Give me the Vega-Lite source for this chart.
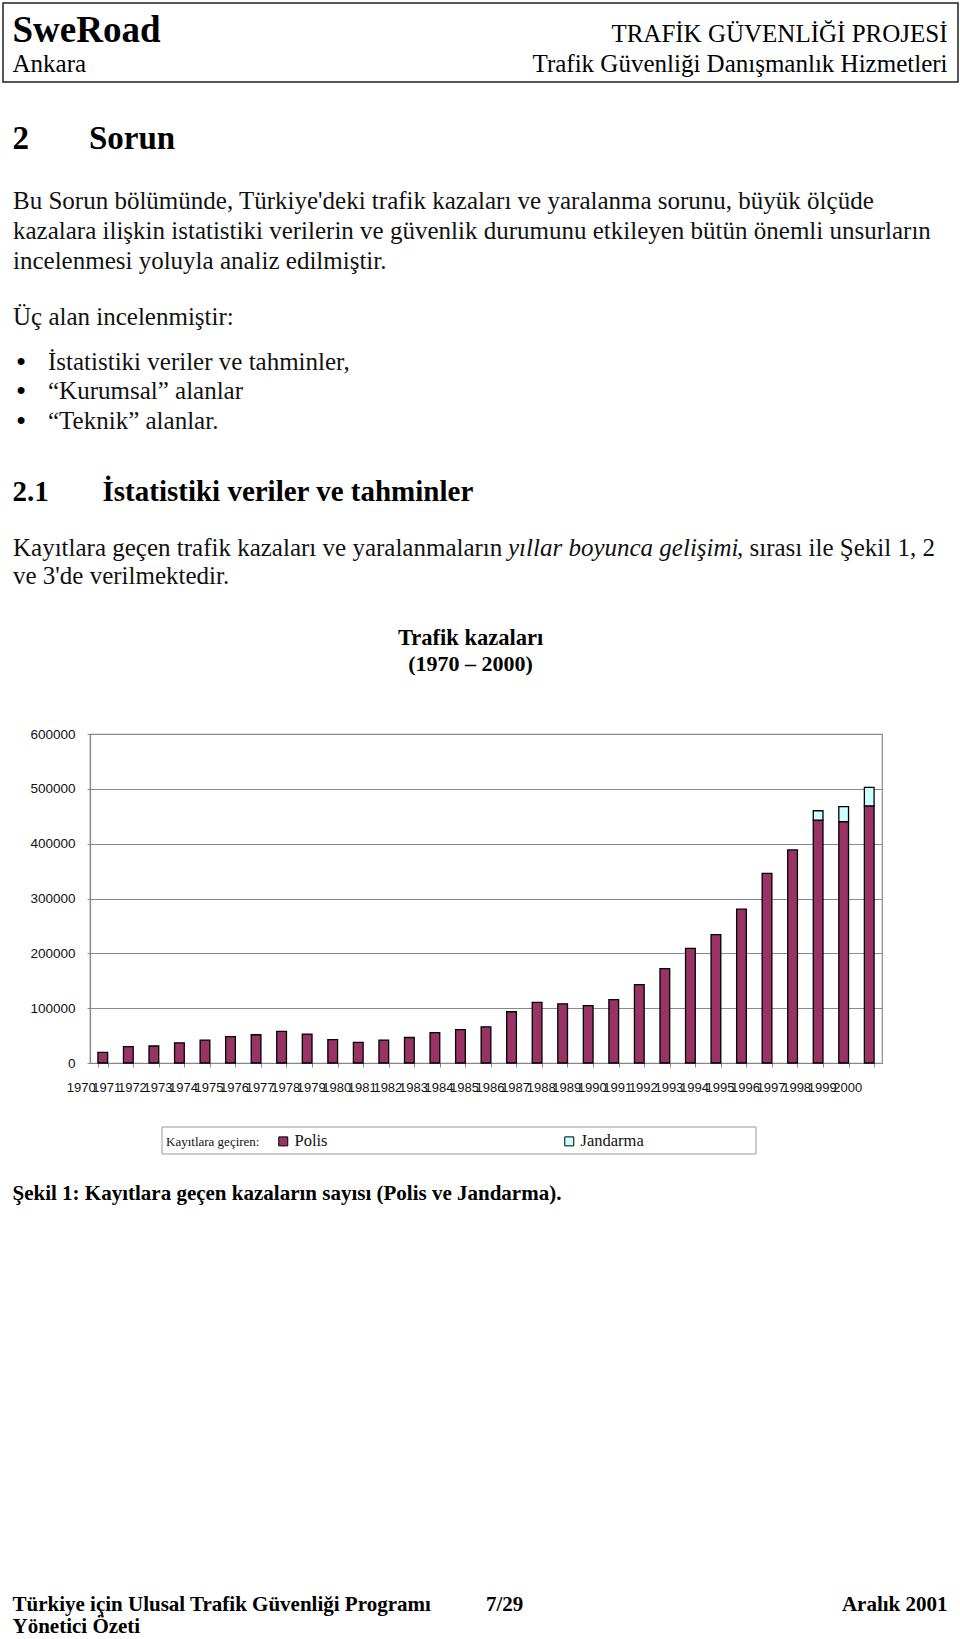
{
  "$schema": "https://vega.github.io/schema/vega-lite/v6.json",
  "width": 792,
  "height": 329,
  "autosize": {"type": "none"},
  "padding": {"left": 90, "top": 734, "right": 78, "bottom": 576},
  "background": "white",
  "config": {
    "view": {"stroke": "#8a8a8a", "strokeWidth": 1.2},
    "text": {"font": "Liberation Serif", "color": "#111111", "baseline": "alphabetic", "align": "left"}
  },
  "layer": [
    {
      "data": {"values": [{}]},
      "mark": {"type": "rect", "x": -87, "y": -731, "x2": 868, "y2": -652, "fill": "white", "fillOpacity": 0, "stroke": "#222222", "strokeWidth": 1.5}
    },
    {
      "data": {"values": [{}]},
      "mark": {"type": "rect", "x": 72, "y": 393, "x2": 666, "y2": 420, "fill": "white", "stroke": "#999999", "strokeWidth": 1}
    },
    {
      "data": {"values": [{}]},
      "mark": {"type": "rule", "x": -77.5, "x2": 861.5, "y": 855.5, "y2": 855.5, "stroke": "#555555", "strokeWidth": 2},
      "encoding": {}
    },
    {
      "data": {
        "values": [
          {"year": "1970", "series": "Polis", "value": 19500},
          {"year": "1971", "series": "Polis", "value": 30000},
          {"year": "1972", "series": "Polis", "value": 31000},
          {"year": "1973", "series": "Polis", "value": 36800},
          {"year": "1974", "series": "Polis", "value": 41800},
          {"year": "1975", "series": "Polis", "value": 48000},
          {"year": "1976", "series": "Polis", "value": 51500},
          {"year": "1977", "series": "Polis", "value": 57500},
          {"year": "1978", "series": "Polis", "value": 52800},
          {"year": "1979", "series": "Polis", "value": 42500},
          {"year": "1980", "series": "Polis", "value": 37500},
          {"year": "1981", "series": "Polis", "value": 41800},
          {"year": "1982", "series": "Polis", "value": 46500},
          {"year": "1983", "series": "Polis", "value": 55500},
          {"year": "1984", "series": "Polis", "value": 61000},
          {"year": "1985", "series": "Polis", "value": 66000},
          {"year": "1986", "series": "Polis", "value": 93500},
          {"year": "1987", "series": "Polis", "value": 110500},
          {"year": "1988", "series": "Polis", "value": 108000},
          {"year": "1989", "series": "Polis", "value": 104500},
          {"year": "1990", "series": "Polis", "value": 115500},
          {"year": "1991", "series": "Polis", "value": 143000},
          {"year": "1992", "series": "Polis", "value": 172000},
          {"year": "1993", "series": "Polis", "value": 209000},
          {"year": "1994", "series": "Polis", "value": 234000},
          {"year": "1995", "series": "Polis", "value": 280500},
          {"year": "1996", "series": "Polis", "value": 346000},
          {"year": "1997", "series": "Polis", "value": 388500},
          {"year": "1998", "series": "Polis", "value": 443000},
          {"year": "1998", "series": "Jandarma", "value": 17000},
          {"year": "1999", "series": "Polis", "value": 440200},
          {"year": "1999", "series": "Jandarma", "value": 27200},
          {"year": "2000", "series": "Polis", "value": 469000},
          {"year": "2000", "series": "Jandarma", "value": 33700}
        ]
      },
      "mark": {"type": "bar", "stroke": "#000000", "strokeWidth": 1.3},
      "encoding": {
        "x": {
          "field": "year", "type": "ordinal",
          "scale": {"paddingInner": 0.62, "paddingOuter": 0.31},
          "axis": {
            "title": null, "labelAngle": 0, "tickBand": "extent", "labelOverlap": false, "labelBound": false,
            "labelFont": "Liberation Sans", "labelFontSize": 13, "labelColor": "#111111",
            "labelOffset": -22, "labelPadding": 14, "tickSize": 4, "tickColor": "#888888",
            "domainColor": "#888888", "domainWidth": 1.2, "grid": false
          }
        },
        "y": {
          "field": "value", "type": "quantitative", "stack": "zero",
          "scale": {"domain": [0, 600000], "nice": false},
          "axis": {
            "title": null, "values": [0, 100000, 200000, 300000, 400000, 500000, 600000], "format": "d",
            "labelFont": "Liberation Sans", "labelFontSize": 13.5, "labelColor": "#111111",
            "labelPadding": 12, "tickSize": 3, "tickColor": "#888888",
            "domainColor": "#888888", "domainWidth": 1.2,
            "grid": true, "gridColor": "#8a8a8a", "gridWidth": 1.2
          }
        },
        "color": {
          "field": "series", "type": "nominal",
          "scale": {"domain": ["Polis", "Jandarma"], "range": ["#993366", "#ccffff"]},
          "legend": {
            "orient": "none", "legendX": 185, "legendY": 399, "direction": "horizontal", "title": null,
            "symbolType": "square", "symbolSize": 81, "symbolStrokeColor": "#000000", "symbolStrokeWidth": 1,
            "labelFont": "Liberation Serif", "labelFontSize": 16.5, "labelColor": "#111111",
            "labelOffset": 3, "columnPadding": 233, "padding": 0
          }
        },
        "order": {"field": "series", "sort": "descending"}
      }
    },
    {"data": {"values": [{}]}, "mark": {"type": "text", "x": -77.5, "y": -692.5, "text": "SweRoad", "fontSize": 37, "fontWeight": "bold", "color": "#000000"}},
    {"data": {"values": [{}]}, "mark": {"type": "text", "x": -77.5, "y": -662.5, "text": "Ankara", "fontSize": 25, "color": "#000000"}},
    {"data": {"values": [{}]}, "mark": {"type": "text", "x": 857.5, "y": -692.5, "align": "right", "text": "TRAFİK GÜVENLİĞİ PROJESİ", "fontSize": 25, "color": "#000000"}},
    {"data": {"values": [{}]}, "mark": {"type": "text", "x": 857.5, "y": -662.5, "align": "right", "text": "Trafik Güvenliği Danışmanlık Hizmetleri", "fontSize": 25, "color": "#000000"}},
    {"data": {"values": [{}]}, "mark": {"type": "text", "x": -77.5, "y": -585.5, "text": "2", "fontSize": 33, "fontWeight": "bold", "color": "#000000"}},
    {"data": {"values": [{}]}, "mark": {"type": "text", "x": -1, "y": -585.5, "text": "Sorun", "fontSize": 33, "fontWeight": "bold", "color": "#000000"}},
    {"data": {"values": [{}]}, "mark": {"type": "text", "x": -77, "y": -525.5, "lineHeight": 30, "fontSize": 25, "text": ["Bu Sorun bölümünde, Türkiye'deki trafik kazaları ve yaralanma sorunu, büyük ölçüde", "kazalara ilişkin istatistiki verilerin ve güvenlik durumunu etkileyen bütün önemli unsurların", "incelenmesi yoluyla analiz edilmiştir."]}},
    {"data": {"values": [{}]}, "mark": {"type": "text", "x": -77, "y": -409, "fontSize": 25, "text": "Üç alan incelenmiştir:"}},
    {"data": {"values": [{}]}, "mark": {"type": "text", "x": -69, "y": -362, "align": "center", "fontSize": 29, "color": "#000000", "text": "•"}},
    {"data": {"values": [{}]}, "mark": {"type": "text", "x": -69, "y": -332.75, "align": "center", "fontSize": 29, "color": "#000000", "text": "•"}},
    {"data": {"values": [{}]}, "mark": {"type": "text", "x": -69, "y": -303.5, "align": "center", "fontSize": 29, "color": "#000000", "text": "•"}},
    {"data": {"values": [{}]}, "mark": {"type": "text", "x": -42, "y": -364, "lineHeight": 29.25, "fontSize": 25, "text": ["İstatistiki veriler ve tahminler,", "“Kurumsal” alanlar", "“Teknik” alanlar."]}},
    {"data": {"values": [{}]}, "mark": {"type": "text", "x": -77.5, "y": -233.5, "text": "2.1", "fontSize": 29, "fontWeight": "bold", "color": "#000000"}},
    {"data": {"values": [{}]}, "mark": {"type": "text", "x": 12.5, "y": -233.5, "text": "İstatistiki veriler ve tahminler", "fontSize": 29, "fontWeight": "bold", "color": "#000000"}},
    {"data": {"values": [{}]}, "mark": {"type": "text", "x": -77, "y": -178, "fontSize": 25, "text": "Kayıtlara geçen trafik kazaları ve yaralanmaların"}},
    {"data": {"values": [{}]}, "mark": {"type": "text", "x": 418, "y": -178, "fontSize": 25, "fontStyle": "italic", "text": "yıllar boyunca gelişimi"}},
    {"data": {"values": [{}]}, "mark": {"type": "text", "x": 647, "y": -178, "fontSize": 25, "text": ", sırası ile Şekil 1, 2"}},
    {"data": {"values": [{}]}, "mark": {"type": "text", "x": -77, "y": -150, "fontSize": 25, "text": "ve 3'de verilmektedir."}},
    {"data": {"values": [{}]}, "mark": {"type": "text", "x": 380.6, "y": -89, "align": "center", "fontSize": 22.5, "fontWeight": "bold", "color": "#000000", "text": "Trafik kazaları"}},
    {"data": {"values": [{}]}, "mark": {"type": "text", "x": 380.6, "y": -63, "align": "center", "fontSize": 22, "fontWeight": "bold", "color": "#000000", "text": "(1970 – 2000)"}},
    {"data": {"values": [{}]}, "mark": {"type": "text", "x": 76, "y": 412, "fontSize": 13, "text": "Kayıtlara geçiren:"}},
    {"data": {"values": [{}]}, "mark": {"type": "text", "x": -77.5, "y": 466, "fontSize": 21, "fontWeight": "bold", "color": "#000000", "text": "Şekil 1: Kayıtlara geçen kazaların sayısı (Polis ve Jandarma)."}},
    {"data": {"values": [{}]}, "mark": {"type": "text", "x": -77.5, "y": 876.5, "fontSize": 21, "fontWeight": "bold", "color": "#000000", "text": "Türkiye için Ulusal Trafik Güvenliği Programı"}},
    {"data": {"values": [{}]}, "mark": {"type": "text", "x": 396, "y": 876.5, "fontSize": 21, "fontWeight": "bold", "color": "#000000", "text": "7/29"}},
    {"data": {"values": [{}]}, "mark": {"type": "text", "x": 857.5, "y": 876.5, "align": "right", "fontSize": 21, "fontWeight": "bold", "color": "#000000", "text": "Aralık 2001"}},
    {"data": {"values": [{}]}, "mark": {"type": "text", "x": -77.5, "y": 899, "fontSize": 21, "fontWeight": "bold", "color": "#000000", "text": "Yönetici Özeti"}}
  ]
}
